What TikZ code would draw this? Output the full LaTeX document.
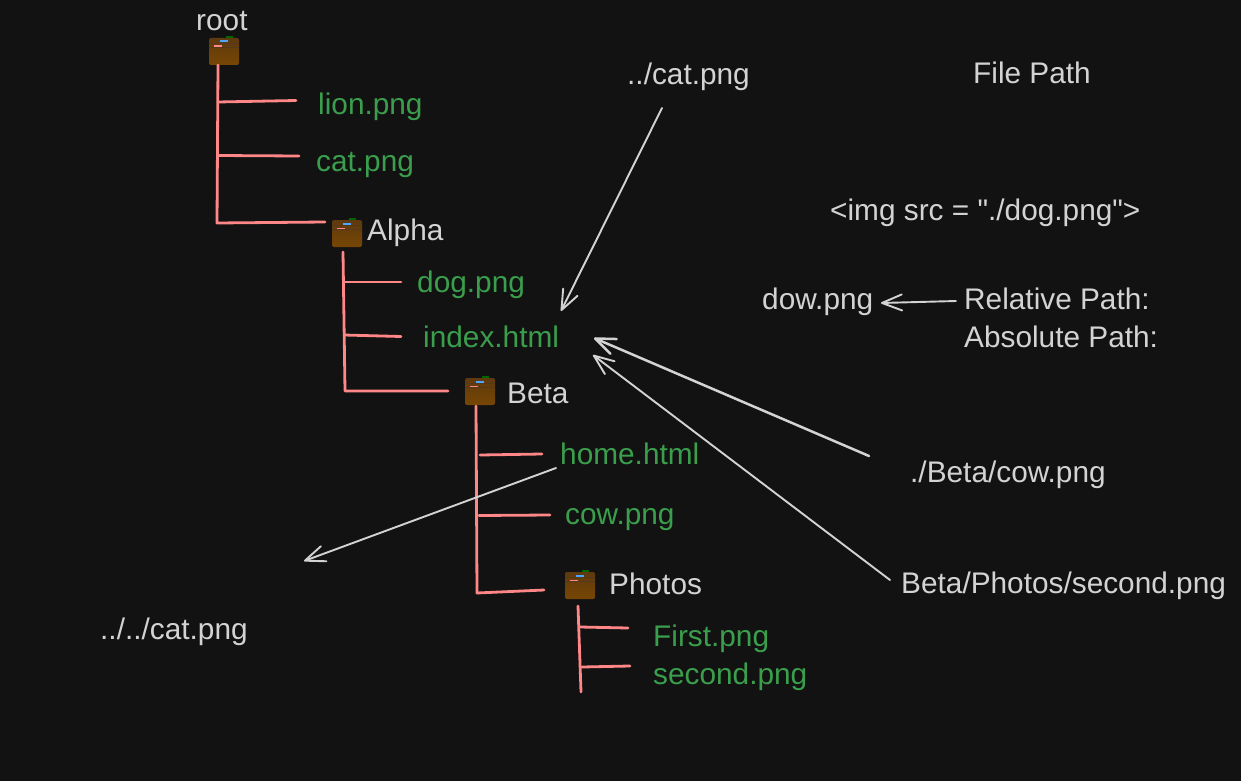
\documentclass[tikz,border=0pt]{standalone}
\usepackage{fontspec}
\newfontfamily\labelfont{Liberation Sans}
\usetikzlibrary{arrows.meta}

\definecolor{canvas}{HTML}{121212}
\definecolor{inkgray}{HTML}{D3D3D3}
\definecolor{filegreen}{HTML}{3A9E4C}
\definecolor{treered}{HTML}{FF8787}
\definecolor{foldertop}{HTML}{5E3A0E}
\definecolor{folderbot}{HTML}{774604}

\tikzset{
    plain/.style={anchor=base west, inner sep=0pt, text=inkgray, font=\labelfont\fontsize{29.8}{34}\selectfont},
    file/.style={plain, text=filegreen},
    treeline/.style={draw=treered, line width=2.8pt, line cap=round, line join=round},
    pointer/.style={draw=inkgray, line width=1.9pt, line cap=round, -{Straight Barb[length=20pt, width=16pt, round]}},
    folder/.pic={
        \fill[green!40!black] (2, -15.5) rectangle (9, -12);
        \node[rounded corners=2pt, minimum width=30pt, minimum height=27pt, inner sep=0pt, top color=foldertop, bottom color=folderbot] (-body) at (0, 0) {};
        \fill[blue!50!cyan!70!white] (-4, -11) rectangle (4, -9);
        \fill[treered] (-10, -6) rectangle (-2, -4.3);
        \draw[black!55!brown, line width=.7pt] (-15, -8) -- (15, -8);
        \draw[black!55!brown, line width=.7pt] (-15, -3.8) -- (15, -3.8);
    }
}

\begin{document}
\begin{tikzpicture}[x=1pt, y=-1pt]
    \fill[canvas] (0, 0) rectangle (1241, 781);
    \useasboundingbox (0, 0) rectangle (1241, 781);

    % The folders
    \pic (rootdir) at (224, 51.5) {folder};
    \pic (alphadir) at (347, 233.5) {folder};
    \pic (betadir) at (480, 391.5) {folder};
    \pic (photosdir) at (580, 585.5) {folder};

    % Folder names
    \node[plain] (root) at (196, 31) {root};
    \node[plain] (alpha) at (367, 240) {Alpha};
    \node[plain] (beta) at (507, 403) {Beta};
    \node[plain] (photos) at (609, 594) {Photos};

    % Files
    \node[file] (lion) at (318, 114) {lion.png};
    \node[file] (cat) at (316, 171) {cat.png};
    \node[file] (dog) at (417, 292) {dog.png};
    \node[file] (index) at (423, 347.5) {index.html};
    \node[file] (home) at (560, 464) {home.html};
    \node[file] (cow) at (565, 524) {cow.png};
    \node[file] (first) at (653, 646) {First.png};
    \node[file] (second) at (653, 684) {second.png};

    % Paths and notes
    \node[plain] (uppath) at (627, 85) {../cat.png};
    \node[plain] (title) at (973, 84) {File Path};
    \node[plain] (imgtag) at (830, 220) {<img src = "./dog.png">};
    \node[plain] (dow) at (762, 309) {dow.png};
    \node[plain] (relative) at (964, 309) {Relative Path:};
    \node[plain] (absolute) at (964, 347) {Absolute Path:};
    \node[plain] (cowpath) at (910, 482) {./Beta/cow.png};
    \node[plain] (secondpath) at (901, 593) {Beta/Photos/second.png};
    \node[plain] (twoup) at (100, 639) {../../cat.png};

    % Free ends of the tree lines
    \coordinate (roottop) at (218, 65);
    \coordinate (rootend) at (217, 223);
    \coordinate (lionstub) at (218, 102);
    \coordinate (lionend) at (296, 100.5);
    \coordinate (catstub) at (218, 155.5);
    \coordinate (catend) at (299, 156);
    \coordinate (alphastub) at (325, 222);
    \coordinate (alphatop) at (343, 252);
    \coordinate (alphaend) at (345, 391);
    \coordinate (dogstub) at (344, 282);
    \coordinate (dogend) at (401, 282);
    \coordinate (indexstub) at (344, 335);
    \coordinate (indexend) at (401, 336.5);
    \coordinate (betastub) at (448, 391);
    \coordinate (betatop) at (476, 406);
    \coordinate (betaend) at (477, 593);
    \coordinate (homestub) at (480, 455);
    \coordinate (homeend) at (542, 454);
    \coordinate (cowstub) at (479, 515.5);
    \coordinate (cowend) at (550, 515);
    \coordinate (photosstub) at (544, 590);
    \coordinate (photostop) at (578, 606);
    \coordinate (photosend) at (581, 692);
    \coordinate (firststub) at (580, 627);
    \coordinate (firstend) at (628, 628);
    \coordinate (secondstub) at (582, 667);
    \coordinate (secondend) at (630, 666);

    % The tree
    \draw[treeline] (roottop) -- (rootend) -- (alphastub);
    \draw[treeline] (lionstub) -- (lionend);
    \draw[treeline] (catstub) -- (catend);
    \draw[treeline] (alphatop) -- (alphaend) -- (betastub);
    \draw[treeline] (dogstub) -- (dogend);
    \draw[treeline] (indexstub) -- (indexend);
    \draw[treeline] (betatop) -- (betaend) -- (photosstub);
    \draw[treeline] (homestub) -- (homeend);
    \draw[treeline] (cowstub) -- (cowend);
    \draw[treeline] (photostop) -- (photosend);
    \draw[treeline] (firststub) -- (firstend);
    \draw[treeline] (secondstub) -- (secondend);

    % Free ends of the arrows
    \coordinate (upfrom) at (662, 108);
    \coordinate (upto) at (561, 311);
    \coordinate (cowfrom) at (869, 456);
    \coordinate (cowto) at (594, 338);
    \coordinate (secondfrom) at (890, 580);
    \coordinate (secondto) at (593, 355);
    \coordinate (twofrom) at (556, 468);
    \coordinate (twoto) at (304, 561);
    \coordinate (relfrom) at (956, 301);
    \coordinate (relto) at (881, 303);

    % The arrows
    \draw[pointer] (upfrom) -- (upto);
    \draw[pointer, line width=2.5pt] (cowfrom) -- (cowto);
    \draw[pointer] (secondfrom) -- (secondto);
    \draw[pointer] (twofrom) -- (twoto);
    \draw[pointer] (relfrom) -- (relto);
\end{tikzpicture}
\end{document}
